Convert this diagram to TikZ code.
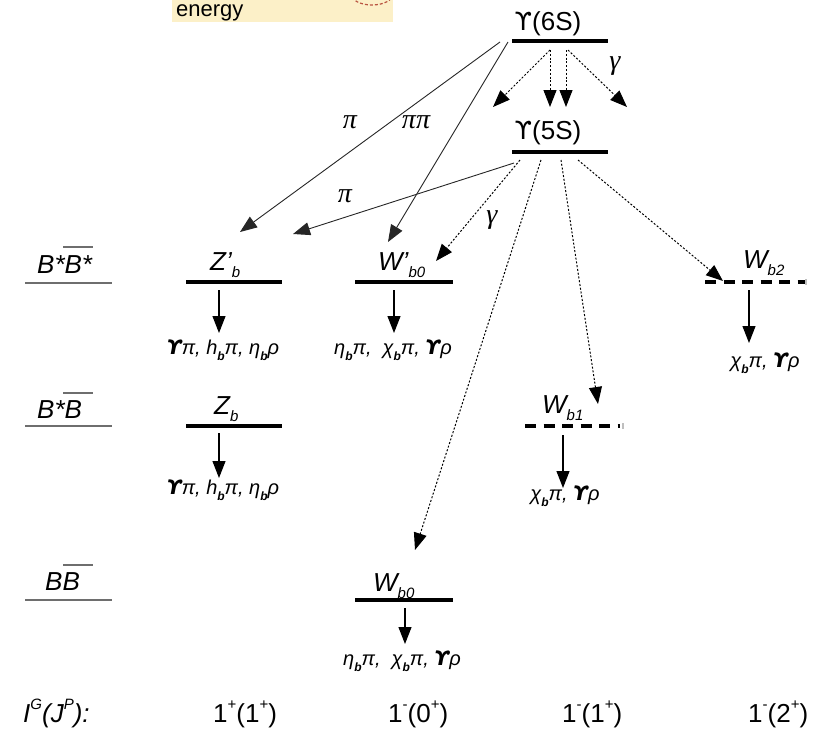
\documentclass[tikz,border=0pt]{standalone}
\usepackage{fontspec}
\setmainfont{Liberation Sans}
\newfontfamily\upsfont{DejaVu Sans}
\newfontfamily\greekserif{Liberation Serif}
\usetikzlibrary{arrows.meta}

\definecolor{notebg}{RGB}{252,240,200}
\definecolor{noteline}{RGB}{185,85,65}
\definecolor{thrgray}{RGB}{110,110,110}

% subscripts, superscripts and the hooked upsilon
\newcommand\lsub[1]{\raisebox{-0.28em}{\fontsize{15}{15}\selectfont #1}}
\newcommand\dsub[1]{\raisebox{-0.3em}{\fontsize{12}{12}\selectfont\bfseries #1}}
\newcommand\sups[1]{\raisebox{0.5em}{\fontsize{15}{15}\selectfont #1}}
\newcommand\Ups{{\upsfont\fontsize{25}{25}\selectfont ϒ}}
\newcommand\bUps{{\upsfont\bfseries ϒ}}

\tikzset{
  lvl/.style={line width=4.5pt},
  virt/.style={line width=4.5pt, dash pattern=on 11pt off 7.5pt},
  thr/.style={line width=1.6pt, draw=thrgray},
  obar/.style={line width=1.3pt, draw=thrgray},
  headtip/.style={-{Triangle[length=17pt,width=13pt]}},
  pionarr/.style={headtip, line width=0.9pt, draw=black!85},
  gamarr/.style={headtip, line width=1pt, dash pattern=on 2pt off 1.8pt},
  decarr/.style={headtip, line width=1.1pt},
  lab/.style={font=\fontsize{26}{26}\selectfont\itshape, inner sep=0, anchor=base west},
  ups/.style={font=\fontsize{26}{26}\selectfont, inner sep=0, anchor=base},
  greek/.style={font=\fontsize{28}{28}\selectfont\greekserif\itshape, inner sep=0},
  dec/.style={font=\fontsize{20}{20}\selectfont\itshape, inner sep=0, anchor=base},
  jp/.style={font=\fontsize{26}{26}\selectfont, inner sep=0, anchor=base west},
}

\begin{document}
\begin{tikzpicture}[x=1pt,y=-1pt]
\useasboundingbox (0,0) rectangle (825,737);

% note in the corner
\fill[notebg] (172,0) rectangle (393,22);
\begin{scope}
  \clip (172,0) rectangle (393,22);
  \draw[noteline, line width=1.2pt, dash pattern=on 3pt off 2pt]
    (372,-6) ellipse [x radius=21pt, y radius=11pt];
\end{scope}
\node[font=\fontsize{22}{22}\selectfont, inner sep=0, anchor=base west] (note) at (176,16) {energy};

% Upsilon(6S) and Upsilon(5S)
\node[ups] (u6) at (548,30) {\Ups(6S)};
\draw[lvl] (512,41) -- (608,41);
\node[ups] (u5) at (548,139) {\Ups(5S)};
\draw[lvl] (512,152) -- (608,152);

% threshold lines on the left
\draw[thr] (25,283) coordinate (bsbs1) -- (112,283) coordinate (bsbs2);
\node[lab] (bsbs) at (37,273) {B*B*};
\draw[obar] (63,247) -- (93,247);
\draw[thr] (25,426) coordinate (bsb1) -- (112,426) coordinate (bsb2);
\node[lab] (bsb) at (37,418) {B*B};
\draw[obar] (63,393) -- (93,393);
\draw[thr] (25,600) coordinate (bb1) -- (112,600) coordinate (bb2);
\node[lab] (bb) at (45,590) {BB};
\draw[obar] (63,565) -- (93,565);

% states
\node[lab] (zpb) at (210,270) {Z’\lsub{b}};
\draw[lvl] (186,282) -- (282,282);
\node[lab] (wpb0) at (378,270) {W’\lsub{b0}};
\draw[lvl] (355,282) -- (453,282);
\node[lab] (wb2) at (743,268) {W\lsub{b2}};
\draw[virt] (705,282) -- (805,282);
\draw[gray!50, line width=1.2pt] (806,279) -- (806,285);

\node[lab] (zb) at (214,414) {Z\lsub{b}};
\draw[lvl] (186,426) -- (282,426);
\node[lab] (wb1) at (542,413) {W\lsub{b1}};
\draw[virt] (525,426) -- (620,426);
\draw[gray!50, line width=1.2pt] (623,423) -- (623,429);

\node[lab] (wb0) at (373,591) {W\lsub{b0}};
\draw[lvl] (355,600) -- (453,600);

% transitions from Upsilon(6S)
\coordinate (g6a) at (550,50);
\coordinate (g6b) at (566,50);
\coordinate (g6c) at (568,50);
\coordinate (t5a) at (493,107);
\coordinate (t5b) at (550,107);
\coordinate (t5c) at (566,107);
\coordinate (t5d) at (627,107);
\draw[gamarr] (g6a) -- (t5a);
\draw[gamarr] (g6a) -- (t5b);
\draw[gamarr] (g6b) -- (t5c);
\draw[gamarr] (g6c) -- (t5d);
\node[greek] (gam6) at (615,66) {γ};

\coordinate (p6a) at (500,42);
\coordinate (p6b) at (508,42);
\coordinate (zpbin) at (240,232);
\coordinate (wpbin) at (388,242);
\draw[pionarr] (p6a) -- (zpbin);
\draw[pionarr] (p6b) -- (wpbin);
\node[greek] (pi6) at (350,122) {π};
\node[greek] (pipi6) at (416,122) {ππ};

% transitions from Upsilon(5S)
\coordinate (p5) at (514,163);
\coordinate (zpbin2) at (293,234);
\draw[pionarr] (p5) -- (zpbin2);
\node[greek] (pi5) at (345,196) {π};

\coordinate (g5a) at (520,160);
\coordinate (g5b) at (541,160);
\coordinate (g5c) at (561,160);
\coordinate (g5d) at (578,160);
\coordinate (wpbin2) at (436,261);
\coordinate (wb0in) at (415,550);
\coordinate (wb1in) at (598,404);
\coordinate (wb2in) at (723,281);
\draw[gamarr] (g5a) -- (wpbin2);
\draw[gamarr] (g5b) -- (wb0in);
\draw[gamarr] (g5c) -- (wb1in);
\draw[gamarr] (g5d) -- (wb2in);
\node[greek] (gam5) at (492,220) {γ};

% decays of each state
\draw[decarr] (219,290) coordinate (zpbout) -- (219,333) coordinate (zpbdec);
\node[dec] (zpbfin) at (223,354) {\bUps π, h\dsub{b}π, η\dsub{b}ρ};
\draw[decarr] (394,290) coordinate (wpbout) -- (394,333) coordinate (wpbdec);
\node[dec] (wpbfin) at (393,354) {η\dsub{b}π,\ \ χ\dsub{b}π,\ \bUps ρ};
\draw[decarr] (749,290) coordinate (wb2out) -- (749,343) coordinate (wb2dec);
\node[dec] (wb2fin) at (765,367) {χ\dsub{b}π,\ \bUps ρ};

\draw[decarr] (219,433) coordinate (zbout) -- (219,478) coordinate (zbdec);
\node[dec] (zbfin) at (223,494) {\bUps π, h\dsub{b}π, η\dsub{b}ρ};
\draw[decarr] (563,435) coordinate (wb1out) -- (563,488) coordinate (wb1dec);
\node[dec] (wb1fin) at (565,500) {χ\dsub{b}π,\ \bUps ρ};

\draw[decarr] (405,608) coordinate (wb0out) -- (405,644) coordinate (wb0dec);
\node[dec] (wb0fin) at (402,665) {η\dsub{b}π,\ \ χ\dsub{b}π,\ \bUps ρ};

% quantum numbers
\node[jp, font=\fontsize{26}{26}\selectfont\itshape] (jphead) at (23,722) {I\sups{G}(J\sups{P}):};
\node[jp] (jp1) at (213,722) {1\sups{+}(1\sups{+})};
\node[jp] (jp2) at (388,722) {1\sups{-}(0\sups{+})};
\node[jp] (jp3) at (562,722) {1\sups{-}(1\sups{+})};
\node[jp] (jp4) at (748,722) {1\sups{-}(2\sups{+})};
\end{tikzpicture}
\end{document}
